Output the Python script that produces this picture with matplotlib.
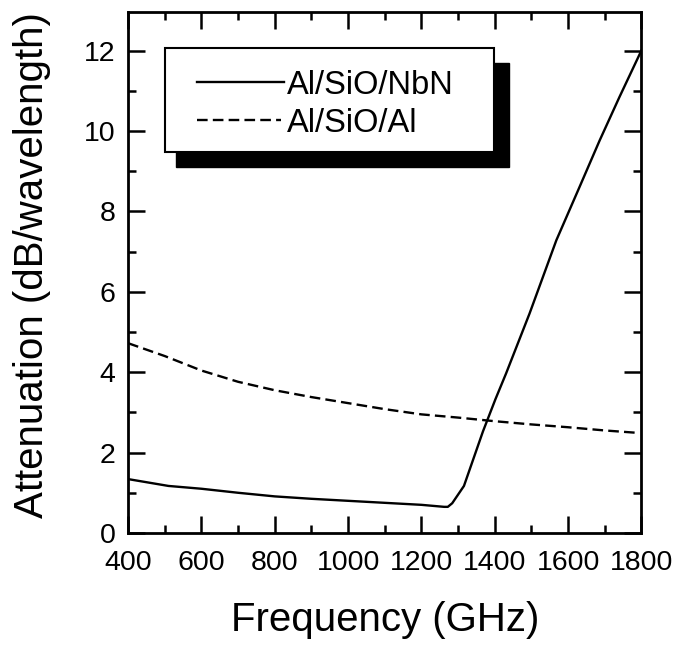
import matplotlib
matplotlib.use("Agg")
import matplotlib.pyplot as plt
from matplotlib.patches import Rectangle
from matplotlib.ticker import MultipleLocator

plt.rcParams['font.family'] = ['Liberation Sans', 'DejaVu Sans']

# Data
freq_nbn = [400, 510, 600, 700, 800, 900, 1000, 1100, 1200, 1262, 1272, 1284, 1316, 1368, 1402,
            1431, 1495, 1568, 1631, 1686, 1740, 1800]
att_nbn = [1.34, 1.17, 1.10, 1.00, 0.91, 0.85, 0.80, 0.75, 0.70, 0.65, 0.65, 0.74, 1.17, 2.53, 3.33,
           3.97, 5.46, 7.28, 8.60, 9.76, 10.84, 12.0]

freq_al = [400, 500, 600, 700, 800, 900, 1000, 1100, 1200, 1300, 1400, 1500, 1600, 1700, 1790]
att_al = [4.72, 4.40, 4.04, 3.76, 3.55, 3.38, 3.23, 3.08, 2.95, 2.87, 2.78, 2.70, 2.63, 2.55, 2.49]

labels = ["Al/SiO/NbN", "Al/SiO/Al"]

fig = plt.figure(figsize=(6.78, 6.48), dpi=100)
ax = fig.add_axes([0.189, 0.1775, 0.757, 0.8035])

DASH = (4.5, 2.2)
ax.plot(freq_nbn, att_nbn, color='black', lw=1.7, solid_joinstyle='round')
ax.plot(freq_al, att_al, color='black', lw=1.7, dashes=DASH)

ax.set_xlim(400, 1800)
ax.set_ylim(0, 12.95)
ax.xaxis.set_major_locator(MultipleLocator(200))
ax.xaxis.set_minor_locator(MultipleLocator(100))
ax.yaxis.set_major_locator(MultipleLocator(2))
ax.yaxis.set_minor_locator(MultipleLocator(1))
ax.tick_params(which='both', direction='in', top=True, right=True, width=1.8)
ax.tick_params(which='major', length=12, labelsize=20.5)
ax.tick_params(axis='x', which='major', pad=12)
ax.tick_params(axis='y', which='major', pad=9)
ax.tick_params(which='minor', length=6)
for s in ax.spines.values():
    s.set_linewidth(2)

ax.set_xlabel("Frequency (GHz)", fontsize=29)
ax.set_ylabel("Attenuation (dB/wavelength)", fontsize=29)
ax.xaxis.set_label_coords(0.5, -0.13)
ax.yaxis.set_label_coords(-0.15, 0.514)

# Legend box with shadow
bx, by, bw, bh = 0.072, 0.731, 0.641, 0.200
ax.add_patch(Rectangle((bx + 0.021, by - 0.028), bw + 0.008, bh, transform=ax.transAxes,
                       facecolor='black', edgecolor='black', zorder=5))
ax.add_patch(Rectangle((bx, by), bw, bh, transform=ax.transAxes,
                       facecolor='white', edgecolor='black', lw=1.5, zorder=6))
ly1, ly2 = 0.866, 0.793
ax.plot([0.135, 0.303], [ly1, ly1], transform=ax.transAxes, color='black', lw=1.7, zorder=7)
ax.plot([0.135, 0.297], [ly2, ly2], transform=ax.transAxes, color='black', lw=1.7,
        dashes=DASH, zorder=7)
ax.text(0.31, ly1, labels[0], transform=ax.transAxes, fontsize=23.5, va='center_baseline', ha='left', zorder=7)
ax.text(0.31, ly2, labels[1], transform=ax.transAxes, fontsize=23.5, va='center_baseline', ha='left', zorder=7)

fig.savefig("out.png", dpi=100)
